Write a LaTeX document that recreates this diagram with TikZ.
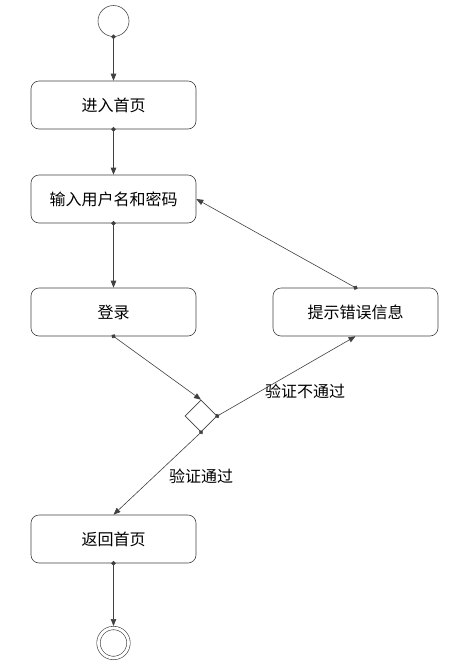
\documentclass[tikz,border=0pt]{standalone}
\usepackage{fontspec}
\newfontfamily\cjk{Noto Sans CJK SC}
\usetikzlibrary{arrows.meta,shapes.geometric}

\begin{document}
\begin{tikzpicture}[x=1pt,y=-1pt,
    act/.style={draw=black!75,line width=0.6pt,rounded corners=8pt,
        minimum width=165pt,minimum height=48pt,inner sep=0pt,
        font=\cjk\fontsize{16}{19}\selectfont},
    flow/.style={draw=black!75,line width=0.6pt,
        {Circle[length=4.5pt]}-{Triangle[length=7pt,width=5.5pt]},shorten <=-2.25pt},
    lbl/.style={font=\cjk\fontsize{16}{19}\selectfont}]
            \useasboundingbox (0,0) rectangle (458,670);
            \def\cx{113.5}

            \node[circle,draw=black!70,line width=0.6pt,minimum size=31pt,inner sep=0pt] (start) at (\cx,21) {};
            \foreach \n/\y/\t in {enter/105/进入首页,input/199/输入用户名和密码,login/312/登录,back/539/返回首页}
                \node[act] (\n) at (\cx,\y) {\t};
            \node[act] (hint) at (355.5,312) {提示错误信息};
            \node[diamond,draw=black!75,line width=0.6pt,minimum width=32pt,minimum height=32pt,inner sep=0pt] (dec) at (201,416) {};
            \node[circle,draw=black!75,line width=0.6pt,double,double distance=2.8pt,
                minimum size=30pt,inner sep=0pt,outer sep=2pt] (end) at (\cx,643) {};

            \draw[flow] (start.south) -- (enter.north);
            \draw[flow] (enter) -- (input);
            \draw[flow] (input) -- (login);
            \draw[flow] (login.south) -- (dec.north);
            \draw[flow] (dec.east) -- (hint.south);
            \draw[flow] (hint.north) -- (input.east);
            \draw[flow] (dec.south) -- (back.north);
            \draw[flow] (back) -- (end);

            \node[lbl] (nopass) at (305,391) {验证不通过};
            \node[lbl] (pass) at (201,476) {验证通过};
        \end{tikzpicture}
\end{document}
